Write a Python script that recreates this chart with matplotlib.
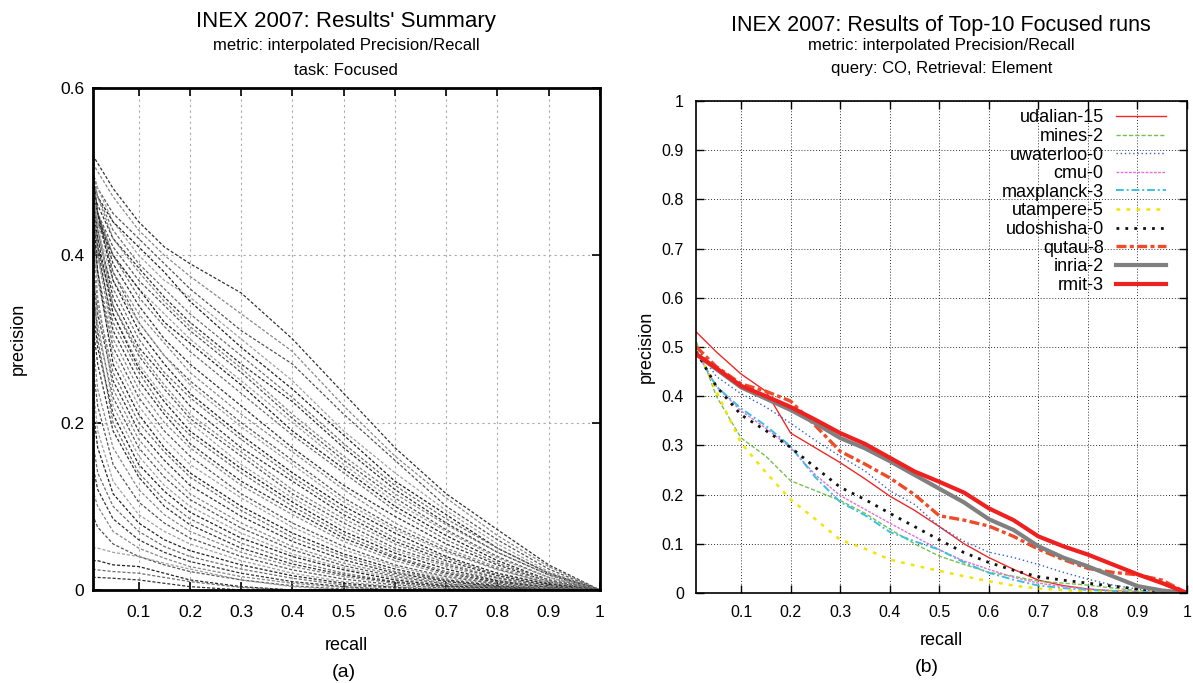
import matplotlib
matplotlib.use("Agg")
from matplotlib import pyplot as plt

plt.rcParams["font.family"] = ["Liberation Sans", "DejaVu Sans"]

# ---- panel (a): every Focused run, precision read at fixed recall levels ----
SUMMARY_RECALL = [0.01, 0.02, 0.05, 0.1, 0.15, 0.2, 0.3, 0.4, 0.5, 0.6, 0.7, 0.8, 0.9, 1.0]

SUMMARY_TOP = [
    [0.52, 0.51, 0.48, 0.44, 0.41, 0.39, 0.355, 0.30, 0.235, 0.17, 0.115, 0.072, 0.03, 0.0],
    [0.51, 0.50, 0.47, 0.43, 0.40, 0.375, 0.33, 0.285, 0.22, 0.16, 0.11, 0.065, 0.028, 0.0],
    [0.50, 0.48, 0.45, 0.42, 0.39, 0.36, 0.31, 0.27, 0.21, 0.155, 0.10, 0.06, 0.025, 0.0],
    [0.50, 0.48, 0.44, 0.40, 0.37, 0.35, 0.30, 0.25, 0.19, 0.14, 0.095, 0.055, 0.022, 0.0],
    [0.49, 0.47, 0.44, 0.41, 0.38, 0.345, 0.29, 0.24, 0.185, 0.13, 0.09, 0.05, 0.02, 0.0],
    [0.50, 0.47, 0.43, 0.39, 0.36, 0.33, 0.28, 0.23, 0.175, 0.125, 0.085, 0.05, 0.02, 0.0],
    [0.48, 0.46, 0.42, 0.385, 0.35, 0.32, 0.27, 0.225, 0.17, 0.12, 0.08, 0.045, 0.018, 0.0],
    [0.49, 0.47, 0.42, 0.38, 0.345, 0.315, 0.265, 0.21, 0.16, 0.115, 0.078, 0.045, 0.018, 0.0],
    [0.47, 0.45, 0.41, 0.37, 0.34, 0.31, 0.26, 0.205, 0.155, 0.11, 0.072, 0.04, 0.015, 0.0],
    [0.48, 0.45, 0.40, 0.36, 0.33, 0.30, 0.25, 0.20, 0.15, 0.105, 0.07, 0.038, 0.015, 0.0],
    [0.46, 0.44, 0.40, 0.36, 0.32, 0.295, 0.245, 0.19, 0.145, 0.10, 0.065, 0.035, 0.012, 0.0],
    [0.47, 0.45, 0.40, 0.35, 0.315, 0.285, 0.235, 0.185, 0.14, 0.095, 0.06, 0.032, 0.012, 0.0],
]
SUMMARY_MID = [
    [0.48, 0.45, 0.39, 0.34, 0.30, 0.27, 0.22, 0.17, 0.125, 0.088, 0.055, 0.03, 0.01, 0.0],
    [0.47, 0.44, 0.38, 0.33, 0.295, 0.26, 0.21, 0.165, 0.12, 0.08, 0.05, 0.027, 0.01, 0.0],
    [0.49, 0.45, 0.38, 0.32, 0.28, 0.25, 0.20, 0.155, 0.11, 0.075, 0.047, 0.025, 0.008, 0.0],
    [0.46, 0.43, 0.37, 0.32, 0.28, 0.245, 0.195, 0.15, 0.105, 0.072, 0.045, 0.024, 0.008, 0.0],
    [0.50, 0.45, 0.37, 0.31, 0.27, 0.235, 0.185, 0.14, 0.10, 0.068, 0.04, 0.02, 0.007, 0.0],
    [0.45, 0.42, 0.36, 0.30, 0.26, 0.23, 0.18, 0.135, 0.095, 0.062, 0.038, 0.018, 0.006, 0.0],
    [0.47, 0.43, 0.35, 0.29, 0.255, 0.22, 0.17, 0.13, 0.09, 0.058, 0.035, 0.017, 0.005, 0.0],
    [0.48, 0.43, 0.34, 0.285, 0.245, 0.21, 0.165, 0.12, 0.085, 0.055, 0.032, 0.015, 0.005, 0.0],
    [0.44, 0.41, 0.34, 0.28, 0.24, 0.205, 0.16, 0.115, 0.08, 0.05, 0.03, 0.014, 0.004, 0.0],
    [0.49, 0.44, 0.33, 0.27, 0.23, 0.20, 0.15, 0.11, 0.075, 0.047, 0.028, 0.012, 0.004, 0.0],
    [0.46, 0.42, 0.33, 0.265, 0.225, 0.19, 0.145, 0.105, 0.07, 0.044, 0.025, 0.011, 0.003, 0.0],
    [0.43, 0.40, 0.32, 0.26, 0.215, 0.185, 0.14, 0.10, 0.066, 0.04, 0.022, 0.01, 0.003, 0.0],
    [0.45, 0.41, 0.31, 0.25, 0.21, 0.175, 0.13, 0.095, 0.062, 0.038, 0.02, 0.009, 0.003, 0.0],
    [0.47, 0.40, 0.30, 0.24, 0.20, 0.17, 0.125, 0.09, 0.058, 0.035, 0.018, 0.008, 0.002, 0.0],
]
SUMMARY_LOW = [
    [0.44, 0.38, 0.29, 0.23, 0.19, 0.16, 0.115, 0.08, 0.052, 0.03, 0.016, 0.007, 0.002, 0.0],
    [0.42, 0.37, 0.28, 0.22, 0.18, 0.15, 0.11, 0.075, 0.048, 0.028, 0.014, 0.006, 0.002, 0.0],
    [0.46, 0.38, 0.27, 0.21, 0.17, 0.14, 0.10, 0.068, 0.043, 0.025, 0.012, 0.005, 0.001, 0.0],
    [0.40, 0.34, 0.26, 0.20, 0.165, 0.135, 0.095, 0.063, 0.04, 0.022, 0.011, 0.004, 0.001, 0.0],
    [0.38, 0.33, 0.25, 0.19, 0.155, 0.125, 0.088, 0.058, 0.036, 0.02, 0.01, 0.004, 0.001, 0.0],
    [0.43, 0.35, 0.24, 0.18, 0.145, 0.115, 0.08, 0.052, 0.032, 0.018, 0.008, 0.003, 0.001, 0.0],
    [0.36, 0.31, 0.23, 0.17, 0.135, 0.108, 0.074, 0.048, 0.029, 0.016, 0.007, 0.003, 0.0, 0.0],
    [0.40, 0.32, 0.22, 0.16, 0.125, 0.10, 0.068, 0.043, 0.026, 0.014, 0.006, 0.002, 0.0, 0.0],
    [0.34, 0.29, 0.21, 0.15, 0.118, 0.093, 0.062, 0.04, 0.024, 0.012, 0.005, 0.002, 0.0, 0.0],
    [0.38, 0.30, 0.20, 0.14, 0.108, 0.085, 0.056, 0.035, 0.02, 0.01, 0.004, 0.001, 0.0, 0.0],
    [0.32, 0.27, 0.19, 0.135, 0.10, 0.078, 0.05, 0.031, 0.018, 0.009, 0.004, 0.001, 0.0, 0.0],
]
SUMMARY_BOTTOM = [
    [0.30, 0.24, 0.17, 0.12, 0.09, 0.07, 0.045, 0.028, 0.016, 0.008, 0.003, 0.001, 0.0, 0.0],
    [0.27, 0.22, 0.15, 0.105, 0.08, 0.062, 0.04, 0.024, 0.013, 0.006, 0.002, 0.0, 0.0, 0.0],
    [0.25, 0.19, 0.13, 0.09, 0.07, 0.055, 0.035, 0.02, 0.01, 0.004, 0.001, 0.0, 0.0, 0.0],
    [0.22, 0.17, 0.115, 0.08, 0.06, 0.047, 0.03, 0.017, 0.008, 0.003, 0.0, 0.0, 0.0, 0.0],
    [0.18, 0.14, 0.10, 0.07, 0.052, 0.04, 0.025, 0.014, 0.006, 0.002, 0.0, 0.0, 0.0, 0.0],
    [0.15, 0.12, 0.085, 0.06, 0.045, 0.034, 0.02, 0.01, 0.004, 0.0, 0.0, 0.0, 0.0, 0.0],
    [0.12, 0.10, 0.07, 0.05, 0.038, 0.028, 0.016, 0.008, 0.003, 0.0, 0.0, 0.0, 0.0, 0.0],
    [0.09, 0.075, 0.055, 0.04, 0.03, 0.022, 0.012, 0.005, 0.001, 0.0, 0.0, 0.0, 0.0, 0.0],
]
SUMMARY_FLAT = [
    [0.05, 0.05, 0.045, 0.04, 0.032, 0.025, 0.012, 0.004, 0.0, 0.0, 0.0, 0.0, 0.0, 0.0],
    [0.035, 0.035, 0.03, 0.028, 0.02, 0.012, 0.004, 0.0, 0.0, 0.0, 0.0, 0.0, 0.0, 0.0],
    [0.025, 0.024, 0.022, 0.02, 0.015, 0.01, 0.003, 0.0, 0.0, 0.0, 0.0, 0.0, 0.0, 0.0],
    [0.015, 0.015, 0.014, 0.012, 0.008, 0.004, 0.0, 0.0, 0.0, 0.0, 0.0, 0.0, 0.0, 0.0],
]

# ---- panel (b): top-10 Focused runs ----
TOP10_RECALL = [0.01, 0.05, 0.1, 0.15, 0.2, 0.25, 0.3, 0.35, 0.4, 0.45, 0.5,
                0.55, 0.6, 0.65, 0.7, 0.75, 0.8, 0.85, 0.9, 0.95, 1.0]
RUN_NAMES = ["udalian-15", "mines-2", "uwaterloo-0", "cmu-0", "maxplanck-3",
             "utampere-5", "udoshisha-0", "qutau-8", "inria-2", "rmit-3"]
udalian_15 = [0.53, 0.49, 0.445, 0.41, 0.325, 0.295, 0.265, 0.232, 0.197, 0.168, 0.135,
              0.10, 0.072, 0.048, 0.026, 0.015, 0.008, 0.004, 0.002, 0.001, 0.0]
mines_2 = [0.51, 0.40, 0.315, 0.278, 0.228, 0.208, 0.188, 0.162, 0.13, 0.10, 0.075,
           0.058, 0.042, 0.034, 0.024, 0.02, 0.016, 0.01, 0.005, 0.002, 0.0]
uwaterloo_0 = [0.50, 0.44, 0.405, 0.378, 0.345, 0.31, 0.278, 0.248, 0.208, 0.18, 0.135,
               0.105, 0.083, 0.072, 0.058, 0.042, 0.028, 0.016, 0.008, 0.003, 0.0]
cmu_0 = [0.49, 0.42, 0.37, 0.335, 0.295, 0.24, 0.198, 0.17, 0.142, 0.115, 0.088,
         0.065, 0.048, 0.032, 0.02, 0.013, 0.008, 0.005, 0.003, 0.001, 0.0]
maxplanck_3 = [0.49, 0.42, 0.375, 0.34, 0.298, 0.235, 0.185, 0.158, 0.124, 0.105, 0.088,
               0.062, 0.041, 0.027, 0.015, 0.01, 0.006, 0.004, 0.002, 0.001, 0.0]
utampere_5 = [0.50, 0.41, 0.305, 0.245, 0.19, 0.15, 0.108, 0.09, 0.068, 0.056, 0.045,
              0.034, 0.024, 0.015, 0.009, 0.006, 0.003, 0.002, 0.001, 0.0, 0.0]
udoshisha_0 = [0.49, 0.42, 0.362, 0.33, 0.296, 0.255, 0.215, 0.19, 0.162, 0.135, 0.108,
               0.082, 0.062, 0.046, 0.033, 0.026, 0.02, 0.014, 0.008, 0.004, 0.0]
qutau_8 = [0.50, 0.46, 0.425, 0.41, 0.39, 0.34, 0.288, 0.262, 0.234, 0.20, 0.157,
           0.148, 0.136, 0.115, 0.089, 0.068, 0.05, 0.042, 0.037, 0.026, 0.0]
inria_2 = [0.485, 0.455, 0.418, 0.395, 0.372, 0.345, 0.315, 0.294, 0.268, 0.24, 0.212,
           0.184, 0.15, 0.128, 0.095, 0.072, 0.054, 0.034, 0.014, 0.005, 0.0]
rmit_3 = [0.485, 0.457, 0.421, 0.40, 0.378, 0.352, 0.325, 0.303, 0.275, 0.247, 0.226,
          0.204, 0.172, 0.148, 0.115, 0.095, 0.078, 0.058, 0.038, 0.02, 0.0]
TOP10_PRECISION = [udalian_15, mines_2, uwaterloo_0, cmu_0, maxplanck_3,
                   utampere_5, udoshisha_0, qutau_8, inria_2, rmit_3]

# gnuplot-like line styles: (colour, width, dash pattern)
RUN_STYLES = [
    ("#f02828", 1.0, "-"),
    ("#74c050", 1.0, (0, (3, 1.5))),
    ("#3c5cc8", 1.0, (0, (1, 2))),
    ("#e070d8", 1.0, (0, (2, 1))),
    ("#3cc0e0", 1.4, (0, (4, 1.5, 1, 1.5))),
    ("#f4e400", 1.8, (0, (1.5, 2.5))),
    ("#111111", 2.0, (0, (1, 2.2))),
    ("#f04a28", 2.4, (0, (3, 1, 1.2, 1))),
    ("#808080", 3.0, "-"),
    ("#ee2020", 3.0, "-"),
]
SUMMARY_GREYS = ["#333333", "#888888", "#555555", "#a0a0a0", "#222222", "#6e6e6e"]

TICKS = [0.1, 0.2, 0.3, 0.4, 0.5, 0.6, 0.7, 0.8, 0.9, 1.0]
TICK_LABELS = ["0.1", "0.2", "0.3", "0.4", "0.5", "0.6", "0.7", "0.8", "0.9", "1"]


def main() -> None:
    fig = plt.figure(figsize=(11.93, 6.83), dpi=100)

    # ---------- (a) ----------
    ax_a = fig.add_axes([0.0776, 0.1362, 0.4253, 0.735])
    runs = SUMMARY_TOP + SUMMARY_MID + SUMMARY_LOW + SUMMARY_BOTTOM + SUMMARY_FLAT
    for i, prec in enumerate(runs):
        ax_a.plot(SUMMARY_RECALL, prec, color=SUMMARY_GREYS[i % len(SUMMARY_GREYS)],
                  lw=0.9, ls=(0, (2.5, 1.5)))
    ax_a.set_xlim(0.01, 1.0)
    ax_a.set_ylim(0, 0.6)
    ax_a.set_xticks(TICKS, TICK_LABELS)
    ax_a.set_yticks([0, 0.2, 0.4, 0.6], ["0", "0.2", "0.4", "0.6"])
    ax_a.grid(True, color="#aaaaaa", lw=0.8, ls=(0, (2, 3)))
    ax_a.set_axisbelow(True)
    for sp in ax_a.spines.values():
        sp.set_linewidth(2)
    ax_a.tick_params(direction="in", length=6, width=1.2, top=True, right=True,
                     labelsize=12.5)
    ax_a.tick_params(axis="x", pad=11)
    ax_a.tick_params(axis="y", pad=6)
    ax_a.set_xlabel("recall", fontsize=13, labelpad=12)
    ax_a.set_ylabel("precision", fontsize=13, labelpad=24)

    fig.text(0.290, 0.969, "INEX 2007: Results' Summary", ha="center", va="center", fontsize=16)
    fig.text(0.290, 0.934, "metric: interpolated Precision/Recall", ha="center", va="center",
             fontsize=12)
    fig.text(0.290, 0.897, "task: Focused", ha="center", va="center", fontsize=12)
    fig.text(0.288, 0.016, "(a)", ha="center", va="center", fontsize=14)

    # ---------- (b) ----------
    ax_b = fig.add_axes([0.5838, 0.1318, 0.4112, 0.7204])
    for name, prec, (col, lw, ls) in zip(RUN_NAMES, TOP10_PRECISION, RUN_STYLES):
        ax_b.plot(TOP10_RECALL, prec, color=col, lw=lw, ls=ls, label=name)
    ax_b.set_xlim(0.01, 1.0)
    ax_b.set_ylim(0, 1.0)
    ax_b.set_xticks(TICKS, TICK_LABELS)
    ax_b.set_yticks([0, 0.1, 0.2, 0.3, 0.4, 0.5, 0.6, 0.7, 0.8, 0.9, 1.0],
                    ["0", "0.1", "0.2", "0.3", "0.4", "0.5", "0.6", "0.7", "0.8", "0.9", "1"])
    ax_b.grid(True, color="#333333", lw=0.7, ls=(0, (1, 2)))
    ax_b.set_axisbelow(True)
    for sp in ax_b.spines.values():
        sp.set_linewidth(1.2)
    ax_b.tick_params(direction="in", length=6, width=1, top=True, right=True,
                     labelsize=11.5, pad=9)
    ax_b.set_xlabel("recall", fontsize=13, labelpad=8)
    ax_b.set_ylabel("precision", fontsize=13, labelpad=5)
    ax_b.legend(loc="upper right", bbox_to_anchor=(0.957, 0.983), frameon=False,
                markerfirst=False, fontsize=13, handlelength=2.75, handletextpad=0.7,
                labelspacing=0.09, borderpad=0, borderaxespad=0)

    fig.text(0.789, 0.962, "INEX 2007: Results of Top-10 Focused runs", ha="center",
             va="center", fontsize=15.5)
    fig.text(0.789, 0.933, "metric: interpolated Precision/Recall", ha="center", va="center",
             fontsize=12)
    fig.text(0.789, 0.899, "query: CO, Retrieval: Element", ha="center", va="center",
             fontsize=12)
    fig.text(0.777, 0.022, "(b)", ha="center", va="center", fontsize=14)

    fig.savefig("out.png", dpi=100)


if __name__ == "__main__":
    main()
